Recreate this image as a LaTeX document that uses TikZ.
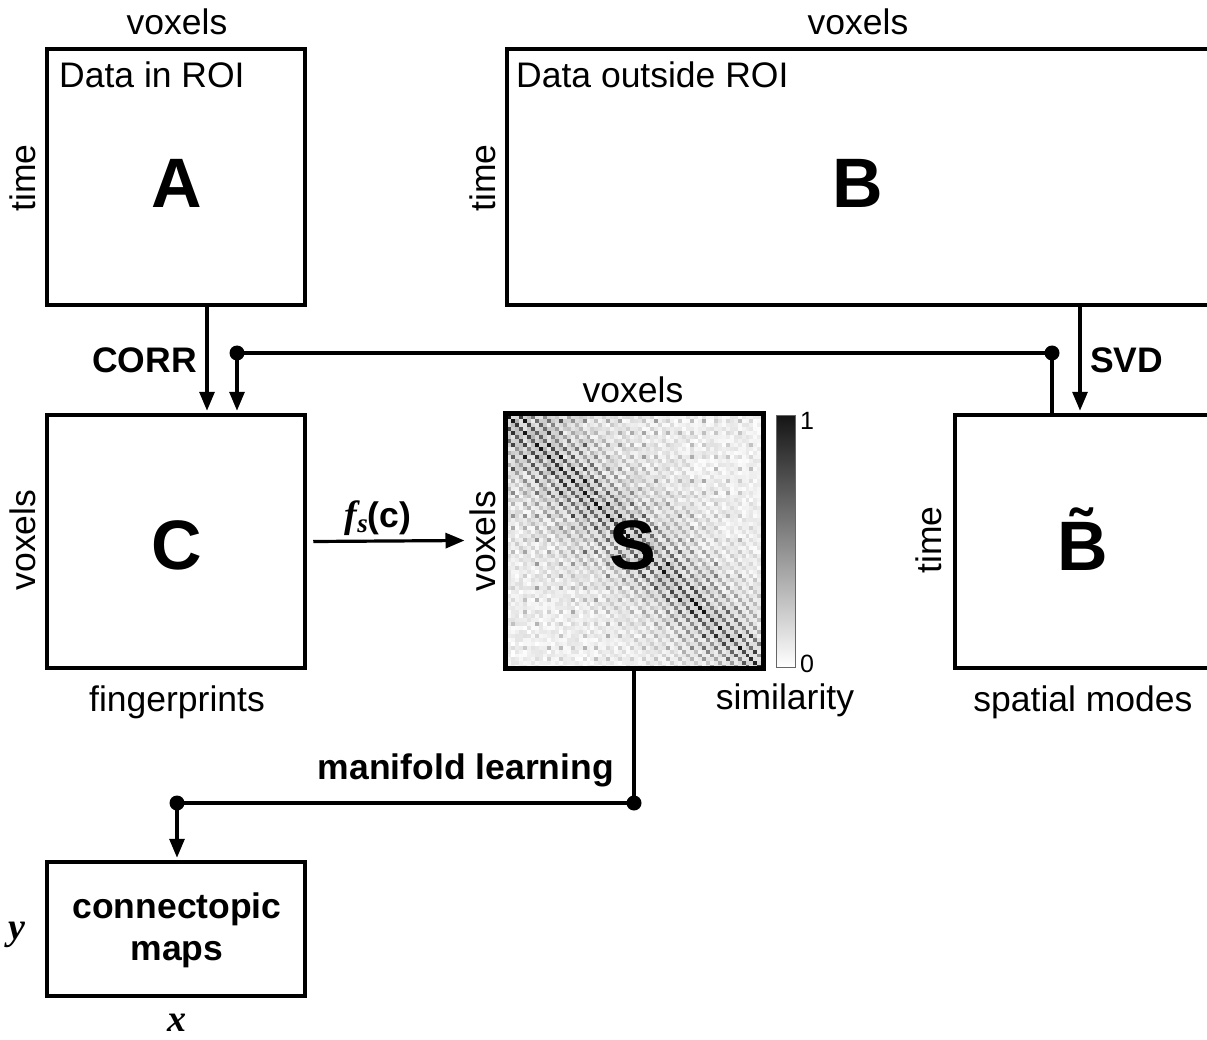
\documentclass[tikz,border=0pt]{standalone}
\usepackage{fontspec}
\setmainfont{Liberation Sans}
\newfontfamily\serifface{Liberation Serif}
\usetikzlibrary{arrows.meta,calc}

\tikzset{
  frame/.style={draw, line width=4.5pt, inner sep=0pt},
  conn/.style={line width=3.2pt},
  arr/.style={line width=3.2pt, -{Triangle[length=19pt,width=15pt]}},
  lbl/.style={font=\fontsize{35.5}{40}\selectfont, inner sep=0pt},
  big/.style={font=\fontsize{70}{72}\selectfont\bfseries, inner sep=0pt},
  boldlbl/.style={font=\fontsize{35.5}{42}\selectfont\bfseries, inner sep=0pt},
  ticklbl/.style={font=\fontsize{25}{27}\selectfont, inner sep=0pt},
  axlbl/.style={font=\fontsize{38}{40}\selectfont\serifface\bfseries\itshape, inner sep=0pt},
  dot/.style={circle, fill, inner sep=0pt, minimum size=15pt},
}

\begin{document}
\begin{tikzpicture}[x=1pt,y=-1pt]
\useasboundingbox (0,0) rectangle (1207,1040);
\fill[white] (0,0) rectangle (1207,1040);
\clip (0,0) rectangle (1207,1040);

% similarity matrix: parallel diagonal bands over a dotted, grainy background
\pgfmathsetseed{11}
\foreach \i in {0,...,63}{
  \foreach \j in {0,...,63}{
    \pgfmathsetmacro\d{abs(\i-\j)}
    \pgfmathsetmacro\w{1.4-(\i+\j)/128}
    \pgfmathsetmacro\v{min(92, 95*exp(-\d/12)*(0.45+0.55*cos(\d*120))*(0.55+0.45*rnd)
        + 12*rnd*\w + 24*\w*(mod(\i,3)==1)*(mod(\j,3)==1)*rnd)}
    \fill[black!\v] (507+\i*3.975, 415+\j*3.975) rectangle ++(4.02,4.02);
  }
}

% frames
\node[frame, minimum width=258pt, minimum height=256pt] (A) at (176,177) {};
\node[frame, minimum width=743pt, minimum height=256pt] (B) at (878.5,177) {};
\node[frame, minimum width=258pt, minimum height=253pt] (C) at (176,541.5) {};
\node[frame, line width=5pt, minimum width=258pt, minimum height=255pt] (S) at (634,540.5) {};
\node[frame, minimum width=295pt, minimum height=253pt] (Bt) at (1102.5,541.5) {};
\node[frame, minimum width=258pt, minimum height=134pt] (M) at (176,929) {};

% colour bar
\node[draw=black!60, line width=1pt, top color=black!92, bottom color=white,
      minimum width=19pt, minimum height=252pt, inner sep=0pt] (cb) at (785.5,541) {};
\node[ticklbl, anchor=west] (cbhi) at (800,421) {1};
\node[ticklbl, anchor=west] (cblo) at (800,664) {0};

% letters
\node[big] (Alab) at (177,183) {A};
\node[big] (Blab) at (858,183) {B};
\node[big] (Clab) at (177,545) {C};
\node[big] (Slab) at (633,545) {S};
\node[big] (Btlab) at (1083,539) {\~{B}};

% labels
\node[lbl] (vA) at (177,22) {voxels};
\node[lbl] (vB) at (858,22) {voxels};
\node[lbl, anchor=west] (dA) at (59,75) {Data in ROI};
\node[lbl, anchor=west] (dB) at (516,75) {Data outside ROI};
\node[lbl, rotate=90] (tA) at (23,178) {time};
\node[lbl, rotate=90] (tB) at (483,178) {time};
\node[lbl, rotate=90] (vC) at (23,540) {voxels};
\node[lbl, rotate=90] (vS) at (483,541) {voxels};
\node[lbl, rotate=90] (tBt) at (929,540) {time};
\node[lbl] (vStop) at (633,390) {voxels};
\node[lbl] (fp) at (177,702) {fingerprints};
\node[lbl] (sim) at (785,700) {similarity};
\node[lbl] (sm) at (1083,702) {spatial modes};
\node[boldlbl, anchor=east] (corr) at (197,360) {CORR};
\node[boldlbl, anchor=west] (svd) at (1090,360) {SVD};
\node[boldlbl, anchor=east] (ml) at (614,770) {manifold learning};
\node[boldlbl, align=center] (cm) at (177,930) {connectopic\\maps};
\node[inner sep=0pt] (fs) at (378,518)
  {{\fontsize{38}{40}\selectfont\serifface\bfseries\itshape f\raisebox{-5pt}{\fontsize{27}{28}\selectfont s}}{\fontsize{35.5}{40}\selectfont\bfseries(c)}};
\node[axlbl] (ylab) at (17,935) {y};
\node[axlbl] (xlab) at (177,1023) {x};

% connectors
\coordinate (j1) at (237,353);
\coordinate (j2) at (1052,353);
\coordinate (svdx) at (1080,0);
\coordinate (m1) at (634,803);
\coordinate (m2) at (177,803);

\draw[arr, shorten >=2pt] ([xshift=31pt]A.south) -- ([xshift=31pt]C.north);
\draw[conn] (j1) -- (j2);
\draw[arr, shorten >=2pt] (j1) -- (j1 |- C.north);
\draw[conn] (j2) -- (j2 |- Bt.north);
\draw[arr, shorten >=2pt] (B.south -| svdx) -- (Bt.north -| svdx);
\draw[arr] ([xshift=6pt]C.east) -- ([xshift=-38pt]S.west);
\draw[conn] (S.south) -- (m1) -- (m2);
\draw[arr, shorten >=2pt] (m2) -- (m2 |- M.north);

\node[dot] at (j1) {};
\node[dot] at (j2) {};
\node[dot] at (m1) {};
\node[dot] at (m2) {};
\end{tikzpicture}
\end{document}
